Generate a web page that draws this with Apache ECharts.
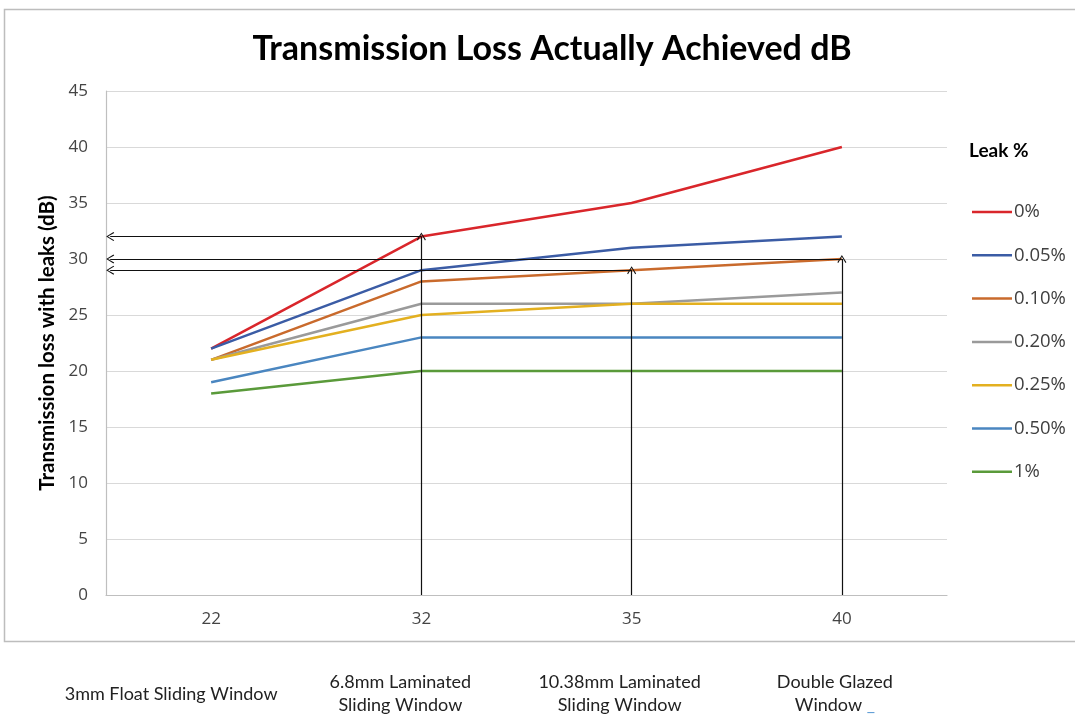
<!DOCTYPE html>
<html>
<head>
<meta charset="utf-8">
<script src="https://cdn.jsdelivr.net/npm/echarts@6/dist/echarts.min.js"></script>
<style>
html,body{margin:0;padding:0;background:#fff;}
#chart{width:1075px;height:715px;}
</style>
</head>
<body>
<div id="chart"></div>
<script>
// ---- data ----
const categories = ['22', '32', '35', '40'];
const windowNames = ['3mm Float Sliding Window', '6.8mm Laminated\nSliding Window', '10.38mm Laminated\nSliding Window', 'Double Glazed\nWindow'];
const seriesNames = ['0%', '0.05%', '0.10%', '0.20%', '0.25%', '0.50%', '1%'];
const leak0 = [22, 32, 35, 40];
const leak005 = [22, 29, 31, 32];
const leak010 = [21, 28, 29, 30];
const leak020 = [21, 26, 26, 27];
const leak025 = [21, 25, 26, 26];
const leak050 = [19, 23, 23, 23];
const leak1 = [18, 20, 20, 20];
const seriesValues = [leak0, leak005, leak010, leak020, leak025, leak050, leak1];
// arrow targets: [category index, dB value]
const arrowTargets = [[1, 32], [2, 29], [3, 30]];
const yTicks = [0, 5, 10, 15, 20, 25, 30, 35, 40, 45];

// ---- styles ----
const colors = ['#d9262b', '#3b5ca5', '#c96a2c', '#9a9a9a', '#e3b020', '#4a86c0', '#5a9a3a'];
const labelShift = [80, 42, 24, 14];
const chevron = 'path://M0,10 L5,0 L10,10 L9,11 L5,2.4 L1,11 Z';

const chart = echarts.init(document.getElementById('chart'));

const lineSeries = seriesNames.map((n, i) => ({
  name: n,
  type: 'line',
  data: seriesValues[i],
  symbol: 'none',
  smooth: false,
  lineStyle: { width: 2.5, color: colors[i] },
  itemStyle: { color: colors[i] },
  z: 3
}));

const axisStart = -0.48;
const arrowLines = [];
arrowTargets.forEach(t => {
  arrowLines.push([{ coord: [axisStart, t[1]], symbol: chevron }, { coord: [t[0], t[1]], symbol: 'none' }]);
  arrowLines.push([{ coord: [t[0], 0], symbol: 'none' }, { coord: [t[0], t[1]], symbol: chevron }]);
});

const arrowSeries = {
  type: 'line',
  xAxisIndex: 2,
  data: [],
  symbol: 'none',
  silent: true,
  z: 4,
  markLine: {
    silent: true,
    animation: false,
    symbolSize: [9, 8],
    label: { show: false },
    lineStyle: { color: '#111', width: 1.2, type: 'solid' },
    emphasis: { disabled: true },
    data: arrowLines
  }
};

const richStyles = {};
const nameFont = { fontFamily: 'Lato', fontSize: 18, color: '#222', lineHeight: 23 };
labelShift.forEach((p, i) => {
  richStyles['s' + i] = Object.assign({}, nameFont, { padding: [0, p, 0, 0] });
});
richStyles.w = Object.assign({}, nameFont);
richStyles.u = Object.assign({}, nameFont, { color: '#5b9bd5' });

chart.setOption({
  animation: false,
  backgroundColor: '#fff',
  title: {
    text: 'Transmission Loss Actually Achieved dB',
    left: 547,
    textAlign: 'center',
    top: 27,
    textStyle: { fontFamily: 'Lato', fontWeight: 'bold', fontSize: 34, color: '#000' }
  },
  graphic: [
    { type: 'rect', shape: { x: 4.5, y: 9.5, width: 1090, height: 632 }, style: { fill: 'none', stroke: '#bdbdbd', lineWidth: 1.5 }, silent: true, z: -1 },
    { type: 'text', left: 969, top: 141, style: { text: 'Leak %', font: 'bold 19px Lato', fill: '#000' } }
  ],
  legend: {
    orient: 'vertical',
    left: 967,
    top: 197,
    icon: 'rect',
    itemWidth: 40,
    itemHeight: 2.5,
    itemGap: 23.3,
    data: seriesNames,
    textStyle: { fontFamily: 'Open Sans', fontSize: 18.5, color: '#404040', lineHeight: 20, padding: [0, 0, 0, -3] }
  },
  grid: { left: 106, right: 128, top: 91, bottom: 120, containLabel: false },
  xAxis: [
    {
      type: 'category',
      data: categories,
      boundaryGap: true,
      axisLine: { onZero: false, lineStyle: { color: '#bfbfbf', width: 1.2 } },
      axisTick: { show: false },
      axisLabel: { fontFamily: 'Open Sans', fontSize: 17, color: '#444', margin: 16 },
      splitLine: { show: false }
    },
    {
      type: 'category',
      data: windowNames,
      position: 'bottom',
      boundaryGap: true,
      axisLine: { show: false },
      axisTick: { show: false },
      splitLine: { show: false },
      axisLabel: {
        interval: 0,
        margin: 99,
        verticalAlign: 'middle',
        formatter: (v, idx) => {
          const parts = v.split('\n').map(s => '{s' + idx + '|' + s + '}');
          if (idx === 3) {
            parts[1] = '{w|Window }{u|_}{s3|}';
          }
          return parts.join('\n');
        },
        rich: richStyles
      }
    },
    {
      type: 'value',
      min: -0.5,
      max: 3.5,
      show: false
    }
  ],
  yAxis: {
    type: 'value',
    min: 0,
    max: 45,
    interval: 5,
    name: 'Transmission loss with leaks (dB)',
    nameLocation: 'middle',
    nameGap: 45,
    nameTextStyle: { fontFamily: 'Lato', fontWeight: 'bold', fontSize: 20.5, color: '#000' },
    axisLine: { show: true, onZero: false, lineStyle: { color: '#bfbfbf', width: 1.2 } },
    axisTick: { show: false },
    axisLabel: { fontFamily: 'Open Sans', fontSize: 17, color: '#444', margin: 18 },
    splitLine: { lineStyle: { color: '#d9d9d9', width: 1.2 } }
  },
  series: lineSeries.concat([arrowSeries])
});
</script>
</body>
</html>
